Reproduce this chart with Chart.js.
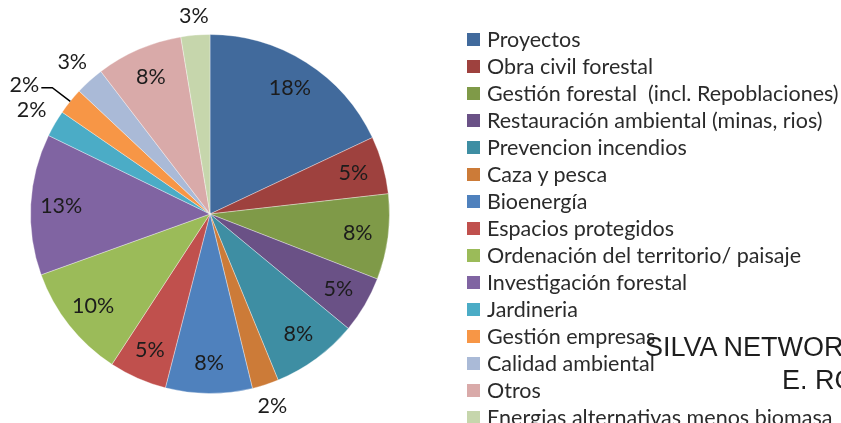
<!DOCTYPE html>
<html>
<head>
<meta charset="utf-8">
<script src="https://cdn.jsdelivr.net/npm/chart.js@4/dist/chart.umd.min.js"></script>
<style>
  html, body { margin: 0; padding: 0; background: #fff; width: 841px; height: 423px; overflow: hidden; }
  #wrap { position: relative; width: 841px; height: 423px; }
  canvas { position: absolute; left: 0; top: 0; }
  #legend { position: absolute; left: 467px; top: 0; white-space: pre; }
  .item { position: absolute; left: 0; height: 24px; display: flex; align-items: center; font-family: Lato, "Open Sans", sans-serif; font-size: 21.5px; color: #2b2b2b; white-space: pre; }
  .sw { width: 13px; height: 13px; margin-right: 7px; flex: none; }
  .wm { position: absolute; font-family: "Liberation Sans", Arial, sans-serif; font-size: 27px; color: #1e1e1e; white-space: nowrap; line-height: 1; }
</style>
</head>
<body>
<div id="wrap">
  <canvas id="c" width="841" height="423"></canvas>
  <div id="legend"></div>
  <div class="wm" style="left:645px; top:334px;">SILVA NETWORK</div>
  <div class="wm" style="left:782px; top:367px;">E. RO</div>
</div>
<script>
const categories = [
  "Proyectos",
  "Obra civil forestal",
  "Gestión forestal  (incl. Repoblaciones)",
  "Restauración ambiental (minas, rios)",
  "Prevencion incendios",
  "Caza y pesca",
  "Bioenergía",
  "Espacios protegidos",
  "Ordenación del territorio/ paisaje",
  "Investigación forestal",
  "Jardineria",
  "Gestión empresas",
  "Calidad ambiental",
  "Otros",
  "Energias alternativas menos biomasa"
];
const values = [18.0, 5.2, 7.7, 5.1, 7.8, 2.4, 7.8, 5.2, 10.3, 12.7, 2.4, 2.4, 2.6, 7.8, 2.6];
const colors = [
  "#416a9c", "#9e413e", "#7f9a48", "#6a5186", "#3e8ea3", "#cc7b38",
  "#4f81bd", "#c0504d", "#9bbb59", "#8064a2", "#4bacc6", "#f79646",
  "#aabad7", "#d9aaa9", "#c6d6ac"
];

// legend (HTML, built from arrays)
const leg = document.getElementById('legend');
categories.forEach((name, i) => {
  const d = document.createElement('div');
  d.className = 'item';
  d.style.top = (39 + 27 * i - 12) + 'px';
  const s = document.createElement('span');
  s.className = 'sw';
  s.style.background = colors[i];
  const t = document.createElement('span');
  t.textContent = name;
  d.appendChild(s); d.appendChild(t);
  leg.appendChild(d);
});

const labelPlugin = {
  id: 'pctLabels',
  afterDatasetsDraw(chart) {
    const ctx = chart.ctx;
    const meta = chart.getDatasetMeta(0);
    ctx.save();
    ctx.font = '21.5px Lato, "Open Sans", sans-serif';
    ctx.fillStyle = '#1c1c1c';
    ctx.textAlign = 'center';
    ctx.textBaseline = 'middle';
    meta.data.forEach((arc, i) => {
      const v = values[i];
      const p = arc.getProps(['x', 'y', 'startAngle', 'endAngle', 'outerRadius'], true);
      const mid = (p.startAngle + p.endAngle) / 2;
      const r = p.outerRadius;
      const txt = Math.round(v) + '%';
      const w = ctx.measureText(txt).width;
      let dist, ang = mid;
      if (v >= 5) {
        dist = r * 0.83;
      } else {
        const ext = (w / 2) * Math.abs(Math.cos(mid)) + 8 * Math.abs(Math.sin(mid));
        dist = r + 10 + ext;
      }
      if (i === 11) { // leader-line label
        ang = mid - 4 * Math.PI / 180;
        dist = r * 1.26;
      }
      const lx = p.x + Math.cos(ang) * dist;
      const ly = p.y + Math.sin(ang) * dist;
      ctx.fillText(txt, lx, ly);
      if (i === 11) {
        const ex = p.x + Math.cos(mid) * r;
        const ey = p.y + Math.sin(mid) * r;
        const hx = lx + w / 2 + 2;
        const hy = ly + 3;
        ctx.strokeStyle = '#000';
        ctx.lineWidth = 1.5;
        ctx.beginPath();
        ctx.moveTo(hx, hy);
        ctx.lineTo(hx + 11, hy);
        ctx.lineTo(ex, ey);
        ctx.stroke();
      }
    });
    ctx.restore();
  }
};

new Chart(document.getElementById('c'), {
  type: 'pie',
  data: {
    labels: categories,
    datasets: [{
      data: values,
      backgroundColor: colors,
      borderColor: 'rgba(255,255,255,0.35)',
      borderWidth: 1
    }]
  },
  options: {
    responsive: false,
    animation: false,
    events: [],
    layout: { padding: { left: 30, right: 451, top: 34, bottom: 29 } },
    plugins: {
      legend: { display: false },
      tooltip: { enabled: false },
      title: { display: false }
    }
  },
  plugins: [labelPlugin]
});
</script>
</body>
</html>
